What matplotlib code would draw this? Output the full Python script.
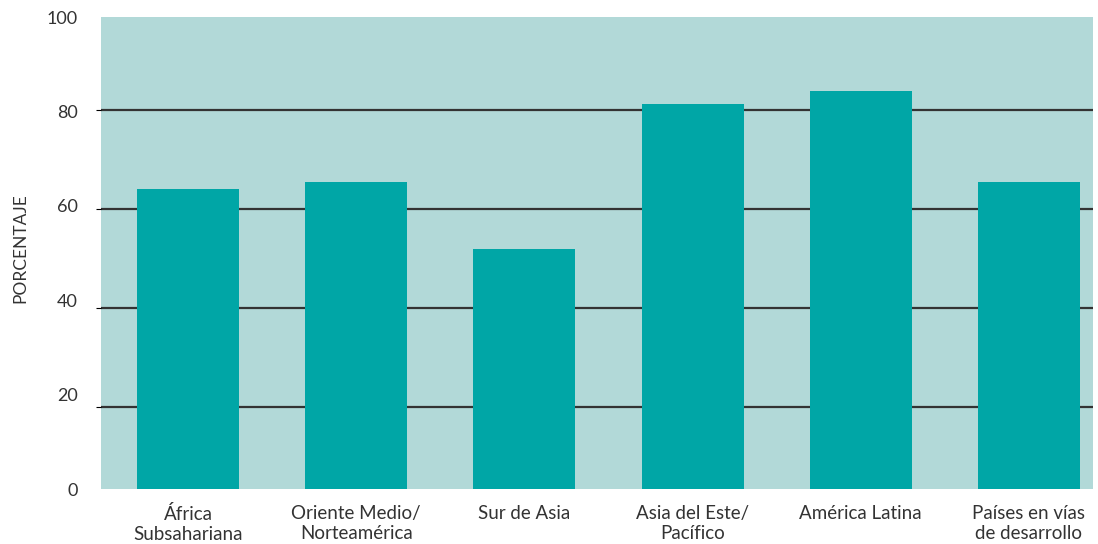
import matplotlib.pyplot as plt

categories = ["África\nSubsahariana", "Oriente Medio/\nNorteamérica", "Sur de Asia",
              "Asia del Este/\nPacífico", "América Latina", "Países en vías\nde desarrollo"]
values = [64.0, 65.5, 51.9, 81.2, 83.8, 65.5]
grid_values = [20, 40, 60, 80]
label_values = [0, 20, 40, 60, 80, 100]

plt.rcParams['font.family'] = ['Lato', 'DejaVu Sans']

fig = plt.figure(figsize=(10.98, 5.44), dpi=100)
ax = fig.add_axes([0.092, 0.1011, 0.9034, 0.8676])
ax.set_facecolor("#b2d9d8")

x = list(range(len(categories)))
ax.bar(x, values, width=0.607, color="#00a6a6", zorder=3)
ax.set_xlim(-0.518, 5.381)
ax.set_ylim(3.4, 98.8)

ax.set_yticks(grid_values)
ax.yaxis.grid(True, color="#333333", linewidth=1.6, zorder=1)
ax.tick_params(axis="y", left=False, labelleft=False)
ax.set_xticks(x)
ax.set_xticklabels(categories, fontsize=13.5, color="#333333", linespacing=1.2)
ax.tick_params(axis="x", bottom=False, pad=8)
for s in ax.spines.values():
    s.set_visible(False)

# separate, evenly spaced labels for the value axis
ax2 = ax.twinx()
ax2.set_ylim(0, 100)
ax2.set_yticks(label_values)
ax2.set_yticklabels([str(v) for v in label_values], fontsize=13, color="#333333")
ax2.yaxis.tick_left()
ax2.tick_params(axis="y", left=False, right=False, pad=13)
for s in ax2.spines.values():
    s.set_visible(False)

fig.text(0.019, 0.544, "PORCENTAJE", rotation=90, fontsize=12.5, color="#333333",
         ha="center", va="center")

fig.savefig("out.png", dpi=100)
